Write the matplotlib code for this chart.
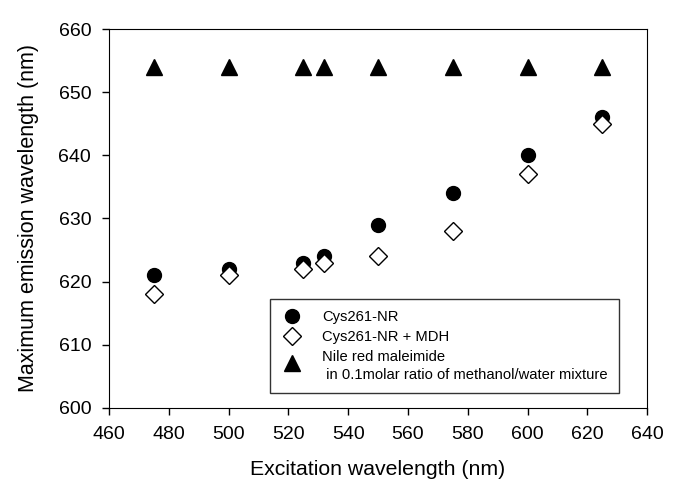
import matplotlib.pyplot as plt
from matplotlib.lines import Line2D
from matplotlib.legend_handler import HandlerLine2D

plt.rcParams['font.family'] = ['Liberation Sans', 'DejaVu Sans']

excitation = [475, 500, 525, 532, 550, 575, 600, 625]
cys_nr = [621, 622, 623, 624, 629, 634, 640, 646]
cys_nr_mdh = [618, 621, 622, 623, 624, 628, 637, 645]
nile_red = [654, 654, 654, 654, 654, 654, 654, 654]


class TopHandler(HandlerLine2D):
    # put the marker level with the first line of a two-line label
    def create_artists(self, legend, orig_handle, xdescent, ydescent,
                       width, height, fontsize, trans):
        artists = super().create_artists(legend, orig_handle, xdescent, ydescent,
                                         width, height, fontsize, trans)
        for a in artists:
            a.set_ydata([y + height * 0.27 for y in a.get_ydata()])
        return artists


fig = plt.figure(figsize=(6.74, 4.92), dpi=100)
ax = fig.add_axes([0.162, 0.171, 0.798, 0.770])

ax.plot(excitation, cys_nr, 'o', color='black', markersize=10, linestyle='none')
ax.plot(excitation, cys_nr_mdh, 'D', markerfacecolor='white', markeredgecolor='black',
        markersize=9, markeredgewidth=1.0, linestyle='none')
ax.plot(excitation, nile_red, '^', color='black', markersize=11, linestyle='none')

ax.set_xlim(460, 640)
ax.set_ylim(600, 660)
ax.set_xticks(range(460, 641, 20))
ax.set_yticks(range(600, 661, 10))
ax.tick_params(direction='out', labelsize=14, length=5, width=1, pad=8, top=False, right=False)
ax.set_xlabel("Excitation wavelength (nm)", fontsize=15.3, labelpad=12)
ax.set_ylabel("Maximum emission wavelength (nm)", fontsize=15.5, labelpad=14)

# legend drawn as a boxed panel
h_circle = Line2D([], [], marker='o', color='black', linestyle='none', markersize=10)
h_diamond = Line2D([], [], marker='D', markerfacecolor='white', markeredgecolor='black',
                   linestyle='none', markersize=9)
h_triangle = Line2D([], [], marker='^', color='black', linestyle='none', markersize=11)
labels = ["Cys261-NR", "Cys261-NR + MDH",
          "Nile red maleimide\n in 0.1molar ratio of methanol/water mixture"]
leg = ax.legend([h_circle, h_diamond, h_triangle], labels, loc='lower left',
                bbox_to_anchor=(0.299, 0.04), borderaxespad=0, fontsize=10.6,
                frameon=True, fancybox=False, edgecolor='black',
                handletextpad=1.3, labelspacing=0.4, borderpad=0.75, handlelength=1.5,
                handler_map={h_triangle: TopHandler()})
leg.get_frame().set_linewidth(1.0)
for t in leg.get_texts():
    t.set_linespacing(1.35)

fig.savefig("out.png", dpi=100)
